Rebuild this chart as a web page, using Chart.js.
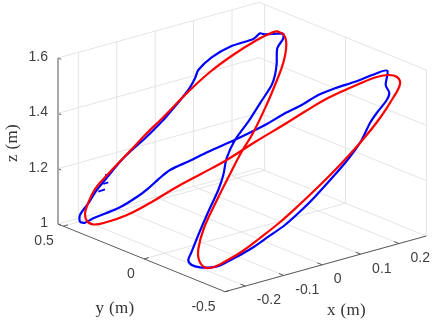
<!DOCTYPE html>
<html><head><meta charset="utf-8">
<style>html,body{margin:0;padding:0;background:#fff}canvas{display:block}</style>
<script src="https://cdn.jsdelivr.net/npm/chart.js@4"></script>
</head><body><canvas id="c" width="436" height="324"></canvas>
<script>
// Axis ticks and labels
const xTicks=[-0.2,-0.1,0,0.1,0.2];
const yTicks=[0.5,0,-0.5];
const zTicks=[1,1.2,1.4,1.6];
const xLabels=['-0.2','-0.1','0','0.1','0.2'];
const yLabels=['0.5','0','-0.5'];
const zLabels=['1','1.2','1.4','1.6'];
const xLim=[-0.253,0.271], yLim=[-0.5,0.533], zLim=[1,1.6];

// Traces, in the plane of the 3D view
const redU=[276.7,284,286.3,283.5,277,266.5,253,241.5,229,215,204,198.5,199,205,214,226,242,260,279,298,318,338,361.7,380,393,400,397,388,375,352,328,305,285,255,226.7,200,175,150,127,107,93.5,87,85,87,95,110,130,147,161,188,210,233,256,270,276.7];
const redV=[31,35,45,62,80,105,133,152,176,204,228,248,260,267.5,267,261,251.5,238,223,206,187,167,141,118,98,84,77,75,77.5,87,98,111.5,124,142,160,174.5,188,203,215,222,224.5,221,214,206,189,172,151,133,119.5,92,72,55,40.5,33.5,31];
const blueU=[283.3,283.3,277.3,276.7,275,271.7,260,248.3,235,226.7,223.3,218.3,208.3,198.3,191.7,188.3,191.7,200,211.7,220,238.3,251.7,268.3,285,301.7,315,331.7,345,355,361.7,370,376.7,386.7,389.3,385.7,387.3,375,355,335,318.3,301.7,285,265,236.7,208.3,190,170,158.3,148.3,138.3,120,103.3,93.3,85,80,80,88.3,96.7,105,111.7,120,130,146.7,163.3,170,188.3,195,198.3,211.7,230,253.3,257.3,260,264.3,283.3];
const blueV=[33.3,38.3,48.3,63.3,75,85,103.3,121.7,140,158,175,190,211.7,235,251.7,260,265,267.3,267.3,265.5,256,248.3,236.7,225,210,196.7,178.3,163,150,140,123,113,100,93,85,70.7,74,81.7,88.3,95,105,113.3,125,139,151.7,160.7,170,179.3,188.3,196,207.3,214.3,218.3,222.7,221.7,215,203.3,190,180,171.7,161.7,151.7,136.7,120,112.3,90,78.3,70,57.3,46.7,39,35.7,33.3,34.3,33.3];
// Short measurement spurs on the blue trace (pairs of endpoints)
const spurU=[105,109.3,103.3,108.3,98.3,105];
const spurV=[175,175.7,184,182.3,191.7,189.3];

const toPts=(u,v)=>u.map((a,i)=>({x:a,y:v[i]}));
// Oblique projection of the MATLAB-style 3D box onto the page
function proj(x,y,z){
  const a=(x-xLim[0])/(xLim[1]-xLim[0]), b=(y-yLim[0])/(yLim[1]-yLim[0]), c=(z-zLim[0])/(zLim[1]-zLim[0]);
  return {x:225+201.3*a-167*b, y:291.7-55.7*a-67.7*b-166*c};
}
const seg=(p,q,color,w,order)=>({type:'scatter',data:[p,q],showLine:true,pointRadius:0,borderColor:color,borderWidth:w,tension:0,clip:false,order});
const grid=[];const G='#e4e4e4';
for(const t of xTicks){
  grid.push(seg(proj(t,yLim[1],1),proj(t,yLim[1],1.6),G,1,5));
  grid.push(seg(proj(t,yLim[0],1),proj(t,yLim[1],1),G,1,5));
}
for(const t of yTicks){
  grid.push(seg(proj(xLim[1],t,1),proj(xLim[1],t,1.6),G,1,5));
  grid.push(seg(proj(xLim[0],t,1),proj(xLim[1],t,1),G,1,5));
}
for(const t of zTicks){
  grid.push(seg(proj(xLim[0],yLim[1],t),proj(xLim[1],yLim[1],t),G,1,5));
  grid.push(seg(proj(xLim[1],yLim[1],t),proj(xLim[1],yLim[0],t),G,1,5));
}
const axes=[];const A='#5a5a5a';
axes.push(seg(proj(xLim[0],yLim[0],1),proj(xLim[1],yLim[0],1),A,1,4));
axes.push(seg(proj(xLim[0],yLim[0],1),proj(xLim[0],yLim[1],1),A,1,4));
axes.push(seg(proj(xLim[0],yLim[1],1),proj(xLim[0],yLim[1],1.6),'#a8a8a8',2,4));
for(const t of xTicks) axes.push(seg(proj(t,yLim[0],1),proj(t,yLim[0]+0.03,1),A,1,4));
for(const t of yTicks) axes.push(seg(proj(xLim[0],t,1),proj(xLim[0]+0.012,t,1),A,1,4));
for(const t of zTicks) axes.push(seg(proj(xLim[0],yLim[1],t),proj(xLim[0],yLim[1]-0.02,t),A,1,4));
const spurs=[];
for(let i=0;i<spurU.length;i+=2) spurs.push(seg({x:spurU[i],y:spurV[i]},{x:spurU[i+1],y:spurV[i+1]},'#0000ff',1.8,2));

const labelPlugin={id:'labels3d',afterDraw(ch){
  const c=ch.ctx,sx=ch.scales.x,sy=ch.scales.y;
  const at=p=>[sx.getPixelForValue(p.x),sy.getPixelForValue(p.y)];
  c.save();c.fillStyle='#404040';c.textBaseline='middle';c.font='14px "Liberation Sans"';
  c.textAlign='left';
  xTicks.forEach((t,i)=>{const [u,v]=at(proj(t,yLim[0],1));c.fillText(xLabels[i],u+11.5,v+14.5);});
  c.textAlign='right';
  yTicks.forEach((t,i)=>{const [u,v]=at(proj(xLim[0],t,1));c.fillText(yLabels[i],u-9.5,v+15);});
  zTicks.forEach((t,i)=>{const [u,v]=at(proj(xLim[0],yLim[1],t));c.fillText(zLabels[i],u-10,v-1);});
  c.textAlign='center';c.fillStyle='#333';c.font='17px "Liberation Serif"';c.letterSpacing='0.3px';
  c.fillText('x (m)',346.5,311);
  c.fillText('y (m)',115,309);
  c.translate(13,143);c.rotate(-Math.PI/2);c.fillText('z (m)',0,0);
  c.restore();
}};

new Chart(document.getElementById('c'),{
  type:'scatter',
  data:{datasets:[...grid,...axes,...spurs,
    {data:toPts(blueU,blueV),showLine:true,pointRadius:0,borderColor:'#0000ff',borderWidth:2.2,tension:0.3,clip:false,order:1},
    {data:toPts(redU,redV),showLine:true,pointRadius:0,borderColor:'#ff0000',borderWidth:2.2,tension:0.4,clip:false,order:0}
  ]},
  options:{responsive:false,animation:false,devicePixelRatio:1,
    layout:{padding:0},
    plugins:{legend:{display:false},tooltip:{enabled:false}},
    scales:{x:{type:'linear',min:0,max:436,display:false},y:{type:'linear',min:0,max:324,reverse:true,display:false}}
  },
  plugins:[labelPlugin]
});
</script></body></html>
